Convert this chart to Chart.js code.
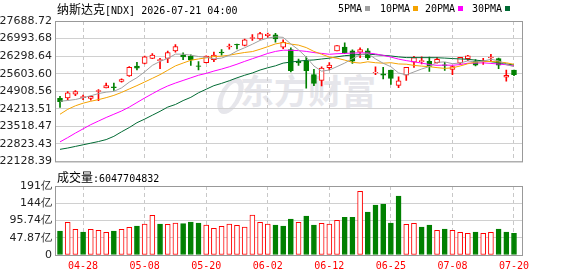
<!DOCTYPE html>
<html><head><meta charset="utf-8">
<script src="https://cdn.jsdelivr.net/npm/chart.js@4/dist/chart.umd.min.js"></script>
<style>
html,body{margin:0;padding:0;background:#fff;width:578px;height:276px;overflow:hidden;}
body{position:relative;}
.t{position:absolute;white-space:nowrap;color:#000;line-height:14px;z-index:3;}
.cjk{font-family:"Noto Sans CJK SC";font-size:12px;}
.asc{font-family:"DejaVu Sans Mono";font-size:10px;}
.sw{display:inline-block;width:5px;height:5px;vertical-align:1px;margin-left:3px;}
canvas{position:absolute;left:0;z-index:2;}
#wm{position:absolute;left:240px;top:70px;font:bold 34px "Noto Sans CJK SC";color:#e6e6eb;z-index:1;line-height:40px;}
#logo{position:absolute;left:219px;top:78px;width:13px;height:26px;border:5px solid #e6e6eb;border-radius:50%;transform:skewX(-20deg);z-index:1;}
</style></head><body>
<div id="logo"></div><div id="wm">东方财富</div>
<canvas id="kc" width="578" height="172" style="top:0"></canvas>
<canvas id="vc" width="578" height="104" style="top:172px"></canvas>
<div class="t" id="title" style="left:57px;top:2px"></div>
<div id="legend"></div>
<div class="t" id="voltitle" style="left:57px;top:170px"></div>
<script>
const indexName = '纳斯达克';
const indexCode = '[NDX]';
const stamp = '2026-07-21 04:00';
const lastVolume = 6047704832;

const dates = ['04-23','04-24','04-27','04-28','04-29','04-30','05-01','05-04','05-05','05-06','05-07','05-08','05-11','05-12','05-13','05-14','05-15','05-18','05-19','05-20','05-21','05-22','05-26','05-27','05-28','05-29','06-01','06-02','06-03','06-04','06-05','06-08','06-09','06-10','06-11','06-12','06-15','06-16','06-17','06-18','06-22','06-23','06-24','06-25','06-26','06-29','06-30','07-01','07-02','07-06','07-07','07-08','07-09','07-10','07-13','07-14','07-15','07-16','07-17','07-20'];
const xLabels = ['04-28','05-08','05-20','06-02','06-12','06-25','07-08','07-20'];

const open  = [24626.7,24639.6,24794,24652.5,24627,24897,25038.6,25077,25296,25514.8,25901,26004,26210,26120,26210,26506,26325.7,26287,25914,26042.6,26158.4,26454.5,26660,26763,26724.7,26995,26982,27111,27136.6,26647.5,26557.4,26094,26120,25566,25334.6,25836.6,26506,26660.4,26506,26454.5,26506,25630.7,25592,25746.6,25141.6,25540.6,26055.4,26081,26094,26042.6,25952.5,25772,26017,26197,26094,26068,26223,26197,25463,25746.6];
const high  = [24704,24897,24935.6,24755,24717,24974,25231.7,25231.7,25399,25888,26055.4,26300,26403,26210,26493,26750.5,26429,26351.5,26081,26313,26454.5,26557.4,26776,26770,26969,27149.5,27240,27214,27201,26943.5,26622,26184,26274,25772,25875,26042.6,26711.8,26827.7,26544.6,26622,26596,25875,25849.5,25746.6,25476,25849.5,26287,26274,26261,26235.6,26055,25914,26248.5,26326,26158,26210,26364,26223,25746.6,25746.6];
const low   = [24266,24562,24729.7,24575,24549.5,24536.6,25038.6,24935.6,25270,25489,25746.6,25991,26197,25798,26042.6,26454,26158,25927,25746.6,26030,26081,26338.6,26570,26583,26699,26918,26956,27033.6,26853,26596,25669,25927,25025.8,25128.7,25116,25746.6,26506,26390,26004,26235.6,26158,25566,25399,25180,25051.5,25334.6,25849.5,25991,25695,26017,25734,25566,25965,26120,25914,25965,26081,25798,25309,25527];
const close = [24498,24845.5,24897,24691,24704,24935.6,25128.7,25051.5,25373.3,25849.5,25823.8,26274.3,26338.6,26158.4,26441.6,26673.2,26261.4,26145.5,25888,26300,26338.6,26428.7,26699,26737.6,26943.5,27033.6,27188,27162.4,26982,26840.6,25720.8,26029.7,25720.8,25218.8,25823.8,25939.6,26711.8,26415.8,26094,26557.4,26223,25656.4,25540.6,25412,25321.6,25849.5,26235.6,26120,25888,26171,25926.7,25888,26248.5,26313,25939.6,26107,26261,25939.6,25540.6,25566];

const ma5  = [24511,24540,24580,24650,24727.1,24814.6,24871.3,24902.2,25038.6,25267.7,25445.4,25674.5,25931.9,26088.9,26207.3,26377.2,26374.6,26336,26281.9,26253.6,26186.7,26220.2,26330.9,26500.8,26629.5,26768.5,26920.3,27013,27061.9,27041.3,26778.8,26547.1,26258.8,25906.1,25702.8,25746.5,25883,26022,26197,26343.7,26400.4,26189.3,26014.3,25877.9,25630.7,25556,25671.9,25787.7,25882.9,26052.8,26068.3,25998.7,26024.4,26109.4,26063.2,26099.2,26173.8,26112,25957.6,25882.8];
const ma10 = [23996,24189,24330.7,24433.7,24511,24575,24652.5,24742.6,24860,24997.4,25130,25272.9,25417.1,25563.8,25737.5,25911.3,26024.6,26134,26185.4,26230.5,26282,26297.4,26333.5,26391.4,26441.6,26477.6,26570.3,26672,26781.4,26835.4,26773.7,26733.7,26635.9,26484,26372,26262.7,26215,26140.4,26051.6,26023.3,26073.5,26036.2,26018.2,26037.5,25987.2,25978.2,25930.6,25901,25880.4,25841.8,25812.2,25835.3,25906,25996.2,26058,26083.8,26086.3,26068.2,26033.5,25973];
const ma20 = [22902,23069.8,23250,23417,23584,23726,23867.3,23996,24125,24279.3,24459.6,24639.6,24807,24974.3,25115.8,25231.7,25334.6,25437.6,25540.6,25614,25706,25785.2,25875.3,25977.6,26089.6,26194.5,26297.5,26403,26483.4,26533,26527.9,26515.6,26484.7,26437.7,26406.8,26370.2,26392.7,26406.2,26416.5,26429.4,26423.6,26385,26327,26260.8,26179.6,26120.5,26072.8,26020.7,25966,25932.6,25942.9,25935.8,25962.1,26016.9,26022.6,26031,26008.5,25984.6,25957,25907.4];
const ma30 = [22606,22657.6,22722,22786,22850.6,22915,22992,23120.8,23301,23468,23661.4,23803,23957.5,24112,24279.3,24382.4,24536.6,24665.4,24845.5,24987,25128.7,25218.8,25321.8,25437.6,25540.6,25630.7,25746.6,25836.6,25913.8,26021.1,26061.9,26101.3,26128.8,26146.4,26183.7,26217.2,26270,26315.5,26339.5,26363.1,26376.4,26355.8,26329.2,26304.3,26266.9,26239.5,26238.6,26237.8,26237.8,26233.5,26219.8,26201.7,26186.7,26172.6,26139.1,26108.2,26077.3,26036.5,25988.5,25946];

// volume in 亿 (1e8)
const volume = [66.6,90.7,71.3,63.8,71.3,68.5,63,66.6,71.3,76.9,80.5,86,110.2,86,85.2,88.8,86.9,91.6,88.8,83.3,74.1,79.6,86,82.4,77.7,111,90.7,86,83.3,80.5,99.9,90.7,108.2,83.3,88,86,96.3,104.6,104.6,176.8,119.3,138.8,141.5,88.8,163.7,85.2,88,77.7,83.3,68.5,72.2,68.5,63,60.2,63.8,60.2,63,72.2,63.8,60.48];
const volUp  = [0,1,1,0,1,1,1,0,1,1,0,1,1,0,1,1,0,0,0,1,1,1,1,1,1,1,1,1,0,0,0,1,0,0,1,1,1,0,0,1,0,0,0,0,0,1,1,0,0,1,0,1,1,1,0,1,1,0,0,0];

const priceTicks = [22128.39,22823.43,23518.47,24213.51,24908.56,25603.60,26298.64,26993.68,27688.72];
const volTicks = [0,47.87,95.74,143.61,191.48];
const volTickLabels = ['0','47.87亿','95.74亿','144亿','191亿'];

const maNames  = ['5PMA','10PMA','20PMA','30PMA'];
const maColors = ['#a0a0a0','#f5a300','#ff00ff','#006a33'];
const maSeries = [ma5, ma10, ma20, ma30];

const RED = '#ff0000', GRN = '#008000';
const xs = dates.map((_, i) => i);
const labelIdx = xLabels.map(d => dates.indexOf(d));
const isUp = i => close[i] >= open[i];

document.getElementById('title').innerHTML =
  '<span class="cjk">' + indexName + '</span><span class="asc">' + indexCode + ' ' + stamp + '</span>';
document.getElementById('voltitle').innerHTML =
  '<span class="cjk">成交量</span><span class="asc">:' + lastVolume + '</span>';
const legX = [338, 380, 425, 472];
document.getElementById('legend').innerHTML = maNames.map((n, k) =>
  '<div class="t asc" style="left:' + legX[k] + 'px;top:2px">' + n +
  '<span class="sw" style="background:' + maColors[k] + '"></span></div>').join('');

const frame = {
  id: 'frame',
  afterDraw(c) {
    const {left, top, right, bottom} = c.chartArea;
    const ctx = c.ctx;
    ctx.save();
    ctx.strokeStyle = '#999';
    ctx.lineWidth = 1;
    ctx.strokeRect(left - 0.5, top + 0.5, right - left + 1, bottom - top);
    ctx.restore();
  }
};

const xScaleBase = (showTicks, h) => ({
  type: 'linear', min: -0.52, max: 60.04, offset: false,
  grid: {color: '#c8c8c8', drawTicks: false, offset: false},
  border: {display: false, dash: [4, 3]},
  ticks: {display: showTicks, autoSkip: false, maxRotation: 0, color: RED, padding: 5,
          font: {family: 'DejaVu Sans Mono', size: 10}, callback: v => dates[v]},
  afterBuildTicks: a => { a.ticks = labelIdx.map(v => ({value: v})); },
  afterFit: a => { a.height = h; }
});

new Chart(document.getElementById('kc'), {
  type: 'bar',
  data: {
    datasets: [
      ...maSeries.map((s, k) => ({
        type: 'line', label: maNames[k], data: xs.map(i => ({x: i, y: s[i]})),
        borderColor: maColors[k], borderWidth: 1, pointRadius: 0, tension: 0, order: 1
      })),
      {label: 'body', data: xs.map(i => ({x: i, y: [open[i], close[i]]})),
       backgroundColor: c => isUp(c.dataIndex) ? '#ffffff' : GRN,
       borderColor: c => isUp(c.dataIndex) ? RED : GRN,
       borderWidth: 1, borderSkipped: false, barThickness: 5, grouped: false, order: 2},
      {label: 'wick', data: xs.map(i => ({x: i, y: [low[i], high[i]]})),
       backgroundColor: c => isUp(c.dataIndex) ? RED : GRN,
       borderWidth: 0, barThickness: 1, grouped: false, order: 3}
    ]
  },
  options: {
    responsive: false, animation: false, devicePixelRatio: 1,
    layout: {padding: {top: 21, right: 56, bottom: 0, left: 0}},
    plugins: {legend: {display: false}, tooltip: {enabled: false}},
    scales: {
      x: xScaleBase(false, 7),
      y: {
        min: priceTicks[0], max: priceTicks[priceTicks.length - 1],
        grid: {color: '#d0d0d0', drawTicks: false}, border: {display: false},
        ticks: {padding: 4, color: '#222', font: {family: 'DejaVu Sans', size: 11},
                callback: v => v.toFixed(2)},
        afterBuildTicks: a => { a.ticks = priceTicks.map(v => ({value: v})); },
        afterFit: a => { a.width = 56; }
      }
    }
  },
  plugins: [frame]
});

new Chart(document.getElementById('vc'), {
  type: 'bar',
  data: {
    datasets: [{
      label: 'volume', data: xs.map(i => ({x: i, y: volume[i]})),
      backgroundColor: c => volUp[c.dataIndex] ? '#ffffff' : GRN,
      borderColor: c => volUp[c.dataIndex] ? RED : GRN,
      borderWidth: 1, borderSkipped: false, barThickness: 5
    }]
  },
  options: {
    responsive: false, animation: false, devicePixelRatio: 1,
    layout: {padding: {top: 14, right: 56, bottom: 0, left: 0}},
    plugins: {legend: {display: false}, tooltip: {enabled: false}},
    scales: {
      x: xScaleBase(true, 21),
      y: {
        min: 0, max: volTicks[volTicks.length - 1],
        grid: {color: '#d0d0d0', drawTicks: false}, border: {display: false},
        ticks: {padding: 4, color: '#222', font: {family: 'DejaVu Sans', size: 11},
                callback: (v, i) => volTickLabels[i]},
        afterBuildTicks: a => { a.ticks = volTicks.map(v => ({value: v})); },
        afterFit: a => { a.width = 56; }
      }
    }
  },
  plugins: [frame]
});
</script>
</body></html>
